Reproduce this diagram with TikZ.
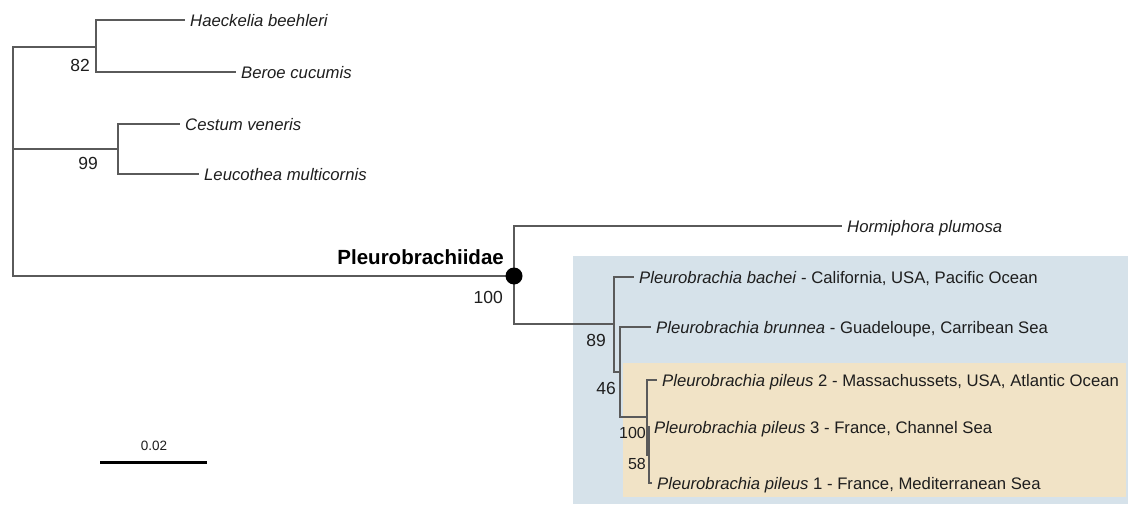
\documentclass[tikz,border=0pt]{standalone}
\usepackage{fontspec}
\setmainfont{Liberation Sans}
\definecolor{bluebg}{HTML}{D6E2EA}
\definecolor{beigebg}{HTML}{F1E3C6}
\definecolor{brc}{HTML}{5A5A5A}
\definecolor{txt}{HTML}{1E1E1E}
\begin{document}
\begin{tikzpicture}[x=1pt,y=-1pt,
  br/.style={draw=brc,line width=1.4pt,line cap=rect},
  leaf/.style={anchor=west,inner xsep=6pt,inner ysep=0pt,text height=12pt,text depth=0pt,
    text=txt,font=\fontsize{16.7}{18}\selectfont},
  boot/.style={anchor=east,inner sep=1pt,text=txt,font=\fontsize{17.5}{19}\selectfont},
  bootsm/.style={anchor=east,inner sep=1pt,text=txt,font=\fontsize{16}{17}\selectfont},
  clade/.style={anchor=east,inner sep=1pt,text=black,font=\fontsize{20.5}{22}\selectfont\bfseries}]
\useasboundingbox (0,0) rectangle (1130,506);
\fill[white] (0,0) rectangle (1130,506);
% highlight boxes
\fill[bluebg] (573,256) rectangle (1128,504);
\fill[beigebg] (623,363) rectangle (1126,497);
% coordinates of internal nodes
\coordinate (rA) at (13,47);
\coordinate (rB) at (13,149);
\coordinate (rP) at (13,276);
\coordinate (A) at (96,47);
\coordinate (Atop) at (96,20);
\coordinate (Abot) at (96,72);
\coordinate (B) at (118,149);
\coordinate (Btop) at (118,124);
\coordinate (Bbot) at (118,174);
\coordinate (P) at (514,276);
\coordinate (Ptop) at (514,226);
\coordinate (Pbot) at (514,324);
\coordinate (N89) at (614,324);
\coordinate (N89top) at (614,277);
\coordinate (N89bot) at (614,372);
\coordinate (N46) at (620,372);
\coordinate (N46top) at (620,327);
\coordinate (N46bot) at (620,417);
\coordinate (N100) at (647,417);
\coordinate (N100top) at (647,380);
\coordinate (N100bot) at (647,455);
\coordinate (N58) at (649,455);
\coordinate (N58top) at (649,427);
\coordinate (N58bot) at (649,483);
% leaves
\node[leaf] (haeck) at (184,20) {\itshape Haeckelia beehleri};
\node[leaf] (beroe) at (235,72) {\itshape Beroe cucumis};
\node[leaf] (cestum) at (179,124) {\itshape Cestum veneris};
\node[leaf] (leuco) at (198,174) {\itshape Leucothea multicornis};
\node[leaf] (hormi) at (841,226) {\itshape Hormiphora plumosa};
\node[leaf] (bachei) at (633,277) {\textit{Pleurobrachia bachei} - California, USA, Pacific Ocean};
\node[leaf] (brunnea) at (650,327) {\textit{Pleurobrachia brunnea} - Guadeloupe, Carribean Sea};
\node[leaf] (pil2) at (656,380) {\textit{Pleurobrachia pileus} 2 - Massachussets, USA, Atlantic Ocean};
\node[leaf] (pil3) at (648,427) {\textit{Pleurobrachia pileus} 3 - France, Channel Sea};
\node[leaf] (pil1) at (651,483) {\textit{Pleurobrachia pileus} 1 - France, Mediterranean Sea};
% branches
\draw[br] (rA) -- (rP);
\draw[br] (rA) -- (A);
\draw[br] (Atop) -- (Abot);
\draw[br] (Atop) -- (haeck.west);
\draw[br] (Abot) -- (beroe.west);
\draw[br] (rB) -- (B);
\draw[br] (Btop) -- (Bbot);
\draw[br] (Btop) -- (cestum.west);
\draw[br] (Bbot) -- (leuco.west);
\draw[br] (rP) -- (P);
\draw[br] (Ptop) -- (Pbot);
\draw[br] (Ptop) -- (hormi.west);
\draw[br] (Pbot) -- (N89);
\draw[br] (N89top) -- (N89bot);
\draw[br] (N89top) -- (bachei.west);
\draw[br] (N89bot) -- (N46);
\draw[br] (N46top) -- (N46bot);
\draw[br] (N46top) -- (brunnea.west);
\draw[br] (N46bot) -- (N100);
\draw[br] (N100top) -- (N100bot);
\draw[br] (N100top) -- (pil2.west);
\draw[br] (N100bot) -- (N58);
\draw[br] (N58top) -- (N58bot);
\draw[br] (N58top) -- (pil3.west);
\draw[br] (N58bot) -- (pil1.west);
% clade dot and label
\fill[black] (P) circle (8.5pt);
\node[clade] (pleuro) at (505,257) {Pleurobrachiidae};
% bootstrap values
\node[boot] (b82) at (91,65) {82};
\node[boot] (b99) at (99,163) {99};
\node[boot] (b100a) at (504,297) {100};
\node[boot] (b89) at (607,340) {89};
\node[boot] (b46) at (617,388) {46};
\node[bootsm] (b100b) at (647,433) {100};
\node[bootsm] (b58) at (647,464) {58};
% scale bar
\coordinate (sbL) at (100,462);
\coordinate (sbR) at (207,462);
\draw[black,line width=3pt] (sbL) -- (sbR);
\node[text=txt,font=\fontsize{13.5}{15}\selectfont] (sblab) at (154,446) {0.02};
\end{tikzpicture}
\end{document}
